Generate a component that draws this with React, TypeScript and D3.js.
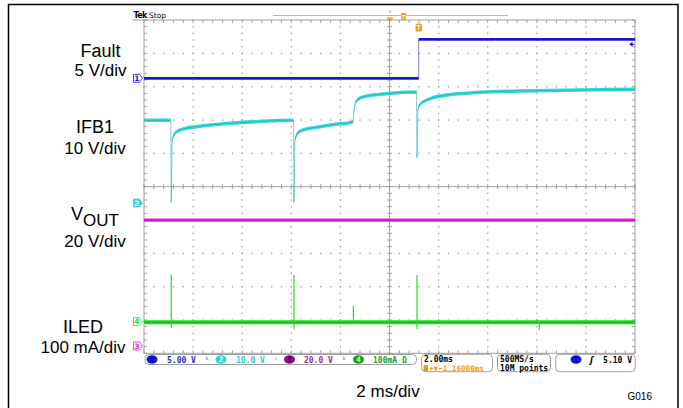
import React from "react";
import * as d3 from "d3";

// ---- data (time in ms, values in channel units) ----
const faultTime = [-10, 1.19, 1.19, 10];
const faultVolts = [0, 0, 5.85, 5.85];

const ifbTime = [-10, -8.91, -8.89, -8.85, -8.67, -8.41, -7.85, -6.5, -5.16, -3.91, -3.89, -3.85, -3.68, -3.42, -2.89, -2.2, -1.49, -1.45, -1.38, -1.28, -1.08, -0.26, 1.1, 1.12, 1.16, 1.26, 1.63, 2.24, 3.26, 5.3, 7.74, 10];
const ifbVolts = [24.8, 24.8, 0.4, 18.9, 21.4, 22.2, 22.9, 23.9, 24.5, 24.8, 0.4, 18.9, 21.4, 22.1, 22.8, 23.6, 24.3, 27.3, 30.3, 31.1, 31.8, 32.7, 33.3, 13.9, 27.9, 29.7, 31.2, 32.3, 33.0, 33.6, 33.9, 34.1];

const voutTime = [-10, 10];
const voutVolts = [75.5, 75.5];

const iledTime = [-10, 10];
const iledBase = [-2, -2];
const iledSpikeTime = [-8.89, -3.89, -1.47, 1.12, 6.1];
const iledSpikeHigh = [140, 140, 47, 140, -2];
const iledSpikeLow = [-19, -22, -2, -22, -25];

const channelNames = ["Fault", "IFB1", "VOUT", "ILED"];
const channelScales = ["5 V/div", "10 V/div", "20 V/div", "100 mA/div"];
const perDiv = [5, 10, 20, 100];
const offsetDiv = [3.25, -0.49, -4.78, -4.05];

const statusCh = ["1", "2", "3", "4"];
const statusVal = ["5.00 V", "10.0 V", "20.0 V", "100mA Ω"];

const W = 683, H = 408;
const X0 = 144, X1 = 635, Y0 = 20, Y1 = 353.3;

const xScale = d3.scaleLinear().domain([-10, 10]).range([X0, X1]);
const yDiv = d3.scaleLinear().domain([-5, 5]).range([Y1, Y0]);
const chY = (ch: number) => (v: number) => yDiv(offsetDiv[ch] + v / perDiv[ch]);

const colors = ["#1c1cd6", "#35d8d8", "#e021cf", "#22dc22"];
const edge = ["#1010a0", "#14a8b0", "#b0109c", "#119a11"];

function Trace({ ch, t, v, h }: { ch: number; t: number[]; v: number[]; h: number }) {
  const y = chY(ch);
  const pts = t.map((tt, i) => [tt, v[i]] as [number, number]);
  const area = d3.area<[number, number]>().x(d => xScale(d[0])).y0(d => y(d[1]) - h).y1(d => y(d[1]) + h).curve(d3.curveMonotoneX);
  const line = d3.line<[number, number]>().x(d => xScale(d[0])).y(d => y(d[1])).curve(d3.curveMonotoneX);
  return (
    <g>
      <path d={area(pts) || ""} fill={colors[ch]} />
      <path d={line(pts) || ""} fill="none" stroke={edge[ch]} strokeWidth={0.8} opacity={0.7} />
    </g>
  );
}

function Graticule() {
  const els: React.ReactNode[] = [];
  const gc = "#a0a0a0";
  const dc = "#9a9a9a";
  const xDivs = d3.range(-10, 10.001, 2);
  const yDivs = d3.range(-5, 5.001, 1);
  const xMinor = d3.range(-10, 10.001, 0.4);
  const yMinor = d3.range(-5, 5.001, 0.2);
  xDivs.forEach((t, i) => {
    if (i === 0 || i === xDivs.length - 1 || t === 0) return;
    yMinor.forEach((d, j) => els.push(<rect key={`vd${i}-${j}`} x={xScale(t) - 0.6} y={yDiv(d) - 0.6} width={1.3} height={1.3} fill={dc} />));
  });
  yDivs.forEach((d, i) => {
    if (i === 0 || i === yDivs.length - 1 || d === 0) return;
    xMinor.forEach((t, j) => els.push(<rect key={`hd${i}-${j}`} x={xScale(t) - 0.6} y={yDiv(d) - 0.6} width={1.3} height={1.3} fill={dc} />));
  });
  els.push(<line key="cx" x1={X0} x2={X1} y1={yDiv(0)} y2={yDiv(0)} stroke={gc} strokeWidth={1} />);
  els.push(<line key="cy" x1={xScale(0)} x2={xScale(0)} y1={Y0} y2={Y1} stroke={gc} strokeWidth={1} />);
  xMinor.forEach((t, j) => {
    els.push(<line key={`ctx${j}`} x1={xScale(t)} x2={xScale(t)} y1={yDiv(0) - 2.5} y2={yDiv(0) + 2.5} stroke={gc} />);
    els.push(<line key={`ttx${j}`} x1={xScale(t)} x2={xScale(t)} y1={Y0} y2={Y0 + 3} stroke={gc} />);
    els.push(<line key={`btx${j}`} x1={xScale(t)} x2={xScale(t)} y1={Y1 - 3} y2={Y1} stroke={gc} />);
  });
  yMinor.forEach((d, j) => {
    els.push(<line key={`cty${j}`} x1={xScale(0) - 2.5} x2={xScale(0) + 2.5} y1={yDiv(d)} y2={yDiv(d)} stroke={gc} />);
    els.push(<line key={`lty${j}`} x1={X0} x2={X0 + 3} y1={yDiv(d)} y2={yDiv(d)} stroke={gc} />);
    els.push(<line key={`rty${j}`} x1={X1 - 3} x2={X1} y1={yDiv(d)} y2={yDiv(d)} stroke={gc} />);
  });
  els.push(<rect key="border" x={X0} y={Y0} width={X1 - X0} height={Y1 - Y0} fill="none" stroke={gc} strokeWidth={1} />);
  return <g>{els}</g>;
}

function ChMarker({ ch, y }: { ch: number; y: number }) {
  const filled = ch === 1;
  return (
    <g>
      <path d={`M133.5,${y - 4} h6 l3,4 l-3,4 h-6 z`} fill={filled ? colors[ch] : "#fff"} stroke={colors[ch]} strokeWidth={0.8} />
      <text x={136.8} y={y + 2.8} fontSize={7.5} textAnchor="middle" fill={filled ? "#fff" : colors[ch]} fontFamily="DejaVu Sans" fontWeight="bold">{statusCh[ch]}</text>
    </g>
  );
}

export default function App() {
  const labelCx = [100.5, 95, 95, 83];
  const labelY1 = [56.7, 132.7, 220, 332.7];
  const labelY2 = [76, 154, 246.7, 352.7];
  const sFont = "DejaVu Sans Mono";
  const circX = [152, 221, 289.5, 358.5];
  const valX = [167, 236, 304, 373];
  const valColor = ["#2828c8", "#30c8c8", "#9a2a9a", "#17a017"];
  const circFill = ["#1414e0", "#22d8d8", "#8a108a", "#12a012"];
  const y1 = chY(0);
  const y4 = chY(3);
  return (
    <svg width={W} height={H} style={{ position: "absolute", left: 0, top: 0, background: "#fff" }} fontFamily="Liberation Sans, Arial, sans-serif">
      <rect x={0} y={0} width={W} height={H} fill="#fff" />
      <path d={`M8.5,${H + 2} V4.5 H678 V${H + 2}`} fill="none" stroke="#000" strokeWidth={1.5} />

      {channelNames.map((n, i) => (
        <g key={n}>
          {i === 2 ? (
            <text x={labelCx[i]} y={labelY1[i]} fontSize={18} textAnchor="middle">V<tspan fontSize={17} dy={6}>OUT</tspan></text>
          ) : (
            <text x={labelCx[i]} y={labelY1[i]} fontSize={18} textAnchor="middle">{n}</text>
          )}
          <text x={labelCx[i]} y={labelY2[i]} fontSize={17} textAnchor="middle">{channelScales[i]}</text>
        </g>
      ))}

      <Graticule />

      <line x1={133} x2={X0} y1={Y0} y2={Y0} stroke="#a0a0a0" />
      <text x={133.5} y={17.5} fontSize={8} fontFamily="DejaVu Sans" fontWeight="bold" letterSpacing={-0.6}>Tek</text>
      <text x={149} y={17.5} fontSize={7.5} fontFamily="DejaVu Sans">Stop</text>
      <line x1={273} x2={508} y1={15.5} y2={15.5} stroke="#6ad8d8" strokeWidth={1} />
      <rect x={389.2} y={10.5} width={1.6} height={2} fill="#e8a020" />
      <path d="M386.5,17.5 h7 l-3.5,4.5 z" fill="#e8a020" />
      <rect x={401.3} y={13} width={4.5} height={7} fill="#e8a020" />
      <text x={403.5} y={19} fontSize={6} textAnchor="middle" fill="#fff" fontWeight="bold">T</text>
      <rect x={415.5} y={23.5} width={6.5} height={8} rx={1.5} fill="#e8a020" />
      <text x={418.7} y={30.3} fontSize={7} textAnchor="middle" fill="#fff" fontWeight="bold">T</text>

      <Trace ch={2} t={voutTime} v={voutVolts} h={1.6} />
      <Trace ch={3} t={iledTime} v={iledBase} h={2} />
      {iledSpikeTime.map((t, i) => (
        <line key={`sp${i}`} x1={xScale(t)} x2={xScale(t)} y1={y4(iledSpikeHigh[i])} y2={y4(iledSpikeLow[i])} stroke={colors[3]} strokeWidth={1.2} />
      ))}
      <Trace ch={1} t={ifbTime} v={ifbVolts} h={1.8} />
      <Trace ch={0} t={faultTime} v={faultVolts} h={1.4} />

      <path d={`M629,${y1(5.1)} l3.5,-2.5 v5 z`} fill={colors[0]} />
      <line x1={631} x2={634.5} y1={y1(5.1)} y2={y1(5.1)} stroke={colors[0]} strokeWidth={1.2} />

      <ChMarker ch={0} y={chY(0)(0)} />
      <ChMarker ch={1} y={chY(1)(0)} />
      <ChMarker ch={2} y={chY(2)(0)} />
      <ChMarker ch={3} y={chY(3)(0)} />

      <rect x={145} y={354.5} width={271.5} height={10} rx={4} fill="#fff" stroke="#888" strokeWidth={0.8} />
      {statusCh.map((c, i) => (
        <g key={`st${i}`}>
          <ellipse cx={circX[i]} cy={359.5} rx={5.5} ry={4.2} fill={circFill[i]} />
          <text x={circX[i]} y={362.3} fontSize={7.5} textAnchor="middle" fill={i === 0 ? "#000a80" : i === 1 ? "#fff" : i === 2 ? "#400040" : "#e0ffe0"} fontFamily={sFont} fontWeight="bold">{c}</text>
          <text x={valX[i]} y={362.6} fontSize={8} fill={valColor[i]} fontFamily={sFont} fontWeight="bold">{statusVal[i]}</text>
          {i < 3 && <text x={valX[i] + 38} y={362} fontSize={7} fill={valColor[i]} fontFamily={sFont}>ᵇ</text>}
        </g>
      ))}
      <rect x={421.5} y={354.3} width={71} height={17.4} rx={4} fill="#fff" stroke="#888" strokeWidth={0.8} />
      <text x={424} y={362.3} fontSize={8} fontFamily={sFont} fontWeight="bold">2.00ms</text>
      <rect x={423.5} y={365} width={4.5} height={6} fill="#e8a020" />
      <text x={429} y={370.7} fontSize={7.6} fontFamily={sFont} fill="#e8a020" fontWeight="bold">+▼−1.16000ms</text>
      <rect x={497.5} y={354.3} width={53} height={17.4} rx={4} fill="#fff" stroke="#888" strokeWidth={0.8} />
      <text x={500} y={362.3} fontSize={8} fontFamily={sFont} fontWeight="bold">500MS/s</text>
      <text x={500} y={370.7} fontSize={8} fontFamily={sFont} fontWeight="bold">10M points</text>
      <rect x={555.7} y={354.3} width={79.5} height={17.4} rx={4} fill="#fff" stroke="#888" strokeWidth={0.8} />
      <ellipse cx={576} cy={359.5} rx={5.5} ry={4.2} fill={circFill[0]} />
      <text x={576} y={362.3} fontSize={7.5} textAnchor="middle" fill="#000a80" fontFamily={sFont} fontWeight="bold">1</text>
      <text x={590} y={362.5} fontSize={8} fontFamily="DejaVu Sans" fontStyle="italic" fontWeight="bold">ʃ</text>
      <text x={632} y={362.6} fontSize={8} textAnchor="end" fontFamily={sFont} fontWeight="bold">5.10 V</text>

      <text x={388} y={396.7} fontSize={17} textAnchor="middle">2 ms/div</text>
      <text x={652} y={399.5} fontSize={10} textAnchor="end">G016</text>
    </svg>
  );
}
